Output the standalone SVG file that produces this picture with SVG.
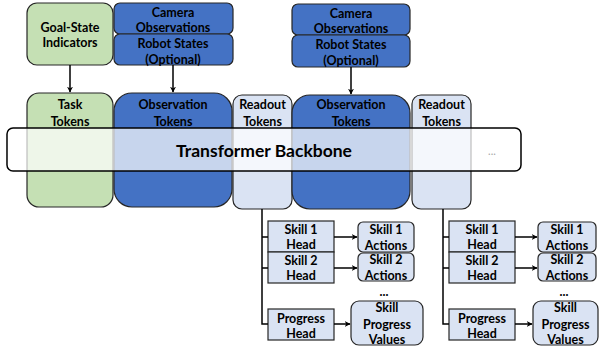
<svg xmlns="http://www.w3.org/2000/svg" width="601" height="347" viewBox="0 0 601 347">
<defs>
<marker id="ah" viewBox="0 0 10 10" refX="9" refY="5" markerWidth="6" markerHeight="6" orient="auto" markerUnits="userSpaceOnUse"><path d="M0,0 L10,5 L0,10 L3,5 Z" fill="#000"/></marker>
<style>
text{font-family:Lato,"Liberation Sans",sans-serif;font-weight:bold;font-size:12.5px;fill:#000;text-anchor:middle;dominant-baseline:central}
.g{fill:#c5e0b4;stroke:#262626;stroke-width:1.2}
.b{fill:#4472c4;stroke:#262626;stroke-width:1.2}
.l{fill:#dae3f3;stroke:#262626;stroke-width:1.2}
.c{stroke:#000;stroke-width:1.5;fill:none}
</style>
</defs>
<rect width="601" height="347" fill="#fff"/>
<g id="goal"><rect class="g" x="27" y="3" width="86" height="62" rx="10"/><text x="70" y="27">Goal-State</text><text x="70" y="42">Indicators</text></g>
<g id="cam1"><rect class="b" x="114" y="3" width="119" height="31" rx="6"/><text x="173" y="12">Camera</text><text x="173" y="27">Observations</text></g>
<g id="rob1"><rect class="b" x="114" y="34" width="119" height="31" rx="6"/><text x="173" y="43">Robot States</text><text x="173" y="59">(Optional)</text></g>
<g id="cam2"><rect class="b" x="292" y="4" width="118" height="31" rx="6"/><text x="351" y="13">Camera</text><text x="351" y="28">Observations</text></g>
<g id="rob2"><rect class="b" x="292" y="35" width="118" height="32" rx="6"/><text x="351" y="44">Robot States</text><text x="351" y="60">(Optional)</text></g>
<g id="task"><rect class="g" x="27" y="93" width="86" height="114" rx="12"/><text x="70" y="104">Task</text><text x="70" y="121">Tokens</text></g>
<g id="obs1"><rect class="b" x="114" y="93" width="118" height="114" rx="18"/><text x="173" y="104">Observation</text><text x="173" y="121">Tokens</text></g>
<g id="read1"><rect class="l" x="233" y="95" width="59" height="114" rx="9"/><text x="262.5" y="104">Readout</text><text x="262.5" y="121">Tokens</text></g>
<g id="obs2"><rect class="b" x="292" y="95" width="118" height="114" rx="18"/><text x="351" y="104">Observation</text><text x="351" y="121">Tokens</text></g>
<g id="read2"><rect class="l" x="412" y="95" width="59" height="114" rx="9"/><text x="441.5" y="104">Readout</text><text x="441.5" y="121">Tokens</text></g>
<g id="backbone"><rect x="7" y="128" width="514" height="43" rx="6" fill="#fff" fill-opacity="0.7" stroke="#000" stroke-width="1.5"/><text x="264" y="150" style="font-size:17.5px">Transformer Backbone</text><text x="492" y="150" style="font-weight:normal;fill:#a6a6a6;font-size:11px">...</text></g>
<g id="s1h_a"><rect class="l" x="268" y="221" width="66" height="31"/><text x="301" y="229">Skill 1</text><text x="301" y="244">Head</text></g>
<g id="s2h_a"><rect class="l" x="268" y="252" width="66" height="31"/><text x="301" y="260">Skill 2</text><text x="301" y="275">Head</text></g>
<g id="ph_a"><rect class="l" x="268" y="309" width="66" height="31"/><text x="301" y="318">Progress</text><text x="301" y="333">Head</text></g>
<g id="s1a_a"><rect class="l" x="358" y="222" width="56" height="30" rx="5"/><text x="386" y="229">Skill 1</text><text x="386" y="245">Actions</text></g>
<g id="s2a_a"><rect class="l" x="358" y="253" width="56" height="28" rx="5"/><text x="386" y="259">Skill 2</text><text x="386" y="275">Actions</text></g>
<text x="384" y="291">...</text>
<g id="pv_a"><rect class="l" x="351" y="301" width="72" height="44" rx="8"/><text x="387" y="307">Skill</text><text x="387" y="324">Progress</text><text x="387" y="339">Values</text></g>
<g id="s1h_b"><rect class="l" x="449" y="221" width="66" height="31"/><text x="482" y="229">Skill 1</text><text x="482" y="244">Head</text></g>
<g id="s2h_b"><rect class="l" x="449" y="252" width="66" height="31"/><text x="482" y="260">Skill 2</text><text x="482" y="275">Head</text></g>
<g id="ph_b"><rect class="l" x="449" y="309" width="66" height="31"/><text x="482" y="318">Progress</text><text x="482" y="333">Head</text></g>
<g id="s1a_b"><rect class="l" x="538" y="222" width="58" height="30" rx="5"/><text x="567" y="229">Skill 1</text><text x="567" y="245">Actions</text></g>
<g id="s2a_b"><rect class="l" x="538" y="253" width="58" height="28" rx="5"/><text x="567" y="259">Skill 2</text><text x="567" y="275">Actions</text></g>
<text x="564" y="291">...</text>
<g id="pv_b"><rect class="l" x="533" y="301" width="65" height="44" rx="8"/><text x="565.5" y="307">Skill</text><text x="565.5" y="324">Progress</text><text x="565.5" y="339">Values</text></g>
<g id="connectors">
<line class="c" x1="70" y1="65" x2="70" y2="92" marker-end="url(#ah)"/>
<line class="c" x1="173" y1="65" x2="173" y2="92" marker-end="url(#ah)"/>
<line class="c" x1="351" y1="67" x2="351" y2="94" marker-end="url(#ah)"/>
<path class="c" d="M262,209 V324 H268 M262,237 H268 M262,268 H268"/>
<line class="c" x1="334" y1="237" x2="357" y2="237" marker-end="url(#ah)"/>
<line class="c" x1="334" y1="268" x2="357" y2="268" marker-end="url(#ah)"/>
<line class="c" x1="334" y1="324" x2="350" y2="324" marker-end="url(#ah)"/>
<path class="c" d="M443,209 V324 H449 M443,237 H449 M443,268 H449"/>
<line class="c" x1="515" y1="237" x2="537" y2="237" marker-end="url(#ah)"/>
<line class="c" x1="515" y1="268" x2="537" y2="268" marker-end="url(#ah)"/>
<line class="c" x1="515" y1="324" x2="532" y2="324" marker-end="url(#ah)"/>
</g>
</svg>
